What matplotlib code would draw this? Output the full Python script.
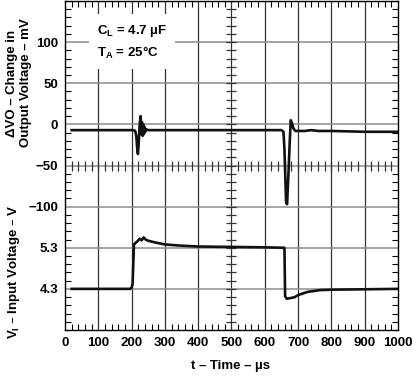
import numpy as np
import matplotlib.pyplot as plt

plt.rcParams['font.family'] = ['Liberation Sans', 'DejaVu Sans']
plt.rcParams['mathtext.default'] = 'regular'

# ΔVO trace (time in us, change in mV)
t_vo = [20, 150, 205, 211, 214, 217, 219, 221, 224, 227, 229, 231, 233, 235, 237,
        239, 241, 244, 250, 300, 400, 500, 600, 650, 656, 659, 662, 664, 667, 671,
        675, 678, 681, 686, 692, 700, 720, 740, 760, 800, 900, 1000]
dvo = [-7, -7, -7, -8, -14, -30, -36, -25, -2, 10, -12, 3, -14, 0, -12,
       -3, -9, -6, -7, -7, -7, -7, -7, -7, -9, -30, -70, -95, -97, -60,
       -20, 5, 2, -5, -8, -8, -8, -7, -8, -8, -9, -9]

# VI trace (time in us, input voltage in V)
t_vi = [20, 150, 196, 200, 203, 205, 207, 212, 218, 224, 230, 236, 242, 250, 270,
        300, 350, 400, 500, 600, 655, 659, 661, 666, 672, 680, 690, 700, 715, 730,
        750, 765, 800, 900, 1000]
vi = [4.3, 4.3, 4.3, 4.33, 4.42, 4.9, 5.38, 5.42, 5.46, 5.52, 5.48, 5.55, 5.5, 5.47, 5.43,
      5.38, 5.35, 5.33, 5.32, 5.31, 5.3, 5.3, 4.12, 4.06, 4.07, 4.08, 4.1, 4.15, 4.19, 4.23,
      4.25, 4.27, 4.28, 4.29, 4.3]

yticks = [-200, -150, -100, -50, 0, 50, 100]
ylabels = ['4.3', '5.3', '\u2212100', '\u221250', '0', '50', '100']
xticks = [0, 100, 200, 300, 400, 500, 600, 700, 800, 900, 1000]


def vi_to_axis(v):
    # lower panel shares the axis: 1 V per 50 mV division, 5.3 V sits at -150
    return -150 + (np.asarray(v) - 5.3) * 50


fig = plt.figure(figsize=(4.14, 3.77), dpi=100)
ax = fig.add_axes([65 / 414, 1 - 330 / 377, 333 / 414, 329 / 377])
ax.set_xlim(0, 1000)
ax.set_ylim(-250, 150)

# graticule
for x in xticks[1:-1]:
    ax.axvline(x, color='#333333', lw=0.9, zorder=1)
for y in yticks:
    ax.axhline(y, color='#8c8c8c', lw=1.1, zorder=1)

# centre cross with small ticks
ax.plot(np.full(41, 500), np.arange(-250, 151, 10), ls='none', marker='_',
        ms=7, mew=0.9, color='#333333', zorder=2)
ax.plot(np.arange(0, 1001, 20), np.full(51, -50), ls='none', marker='|',
        ms=7, mew=0.9, color='#333333', zorder=2)

ax.plot(t_vo, dvo, color='#111111', lw=1.9, zorder=4)
ax.plot(t_vi, vi_to_axis(vi), color='#111111', lw=1.9, zorder=4)

ax.set_xticks(xticks)
ax.set_xticks(np.arange(0, 1001, 20), minor=True)
ax.set_yticks(yticks)
ax.set_yticklabels(ylabels)
ax.set_yticks(np.arange(-250, 151, 10), minor=True)
ax.tick_params(which='both', direction='in', top=True, right=True,
               labelsize=9.5, pad=5)
ax.tick_params(which='major', length=0)
ax.tick_params(which='minor', length=4, width=0.8)
for lab in ax.get_xticklabels() + ax.get_yticklabels():
    lab.set_fontweight('bold')
for s in ax.spines.values():
    s.set_linewidth(1.0)

ax.text(96, 100, 'C$_{L}$ = 4.7 \u00b5F\nT$_{A}$ = 25\u00b0C', fontsize=9.5,
        fontweight='bold', va='center', ha='left', linespacing=1.5,
        bbox=dict(facecolor='white', edgecolor='none', pad=6), zorder=5)

fig.text(12 / 414, 1 - 83 / 377, '\u0394VO \u2013 Change in', rotation=90,
         ha='center', va='center', fontsize=9.5, fontweight='bold')
fig.text(26 / 414, 1 - 83 / 377, 'Output Voltage \u2013 mV', rotation=90,
         ha='center', va='center', fontsize=9.5, fontweight='bold')
fig.text(14 / 414, 1 - 272 / 377, 'V$_{I}$ \u2013 Input Voltage \u2013 V', rotation=90,
         ha='center', va='center', fontsize=9.5, fontweight='bold')
fig.text(231 / 414, 1 - 366 / 377, 't \u2013 Time \u2013 \u00b5s',
         ha='center', va='center', fontsize=9.5, fontweight='bold')

fig.savefig('out.png', dpi=100)
